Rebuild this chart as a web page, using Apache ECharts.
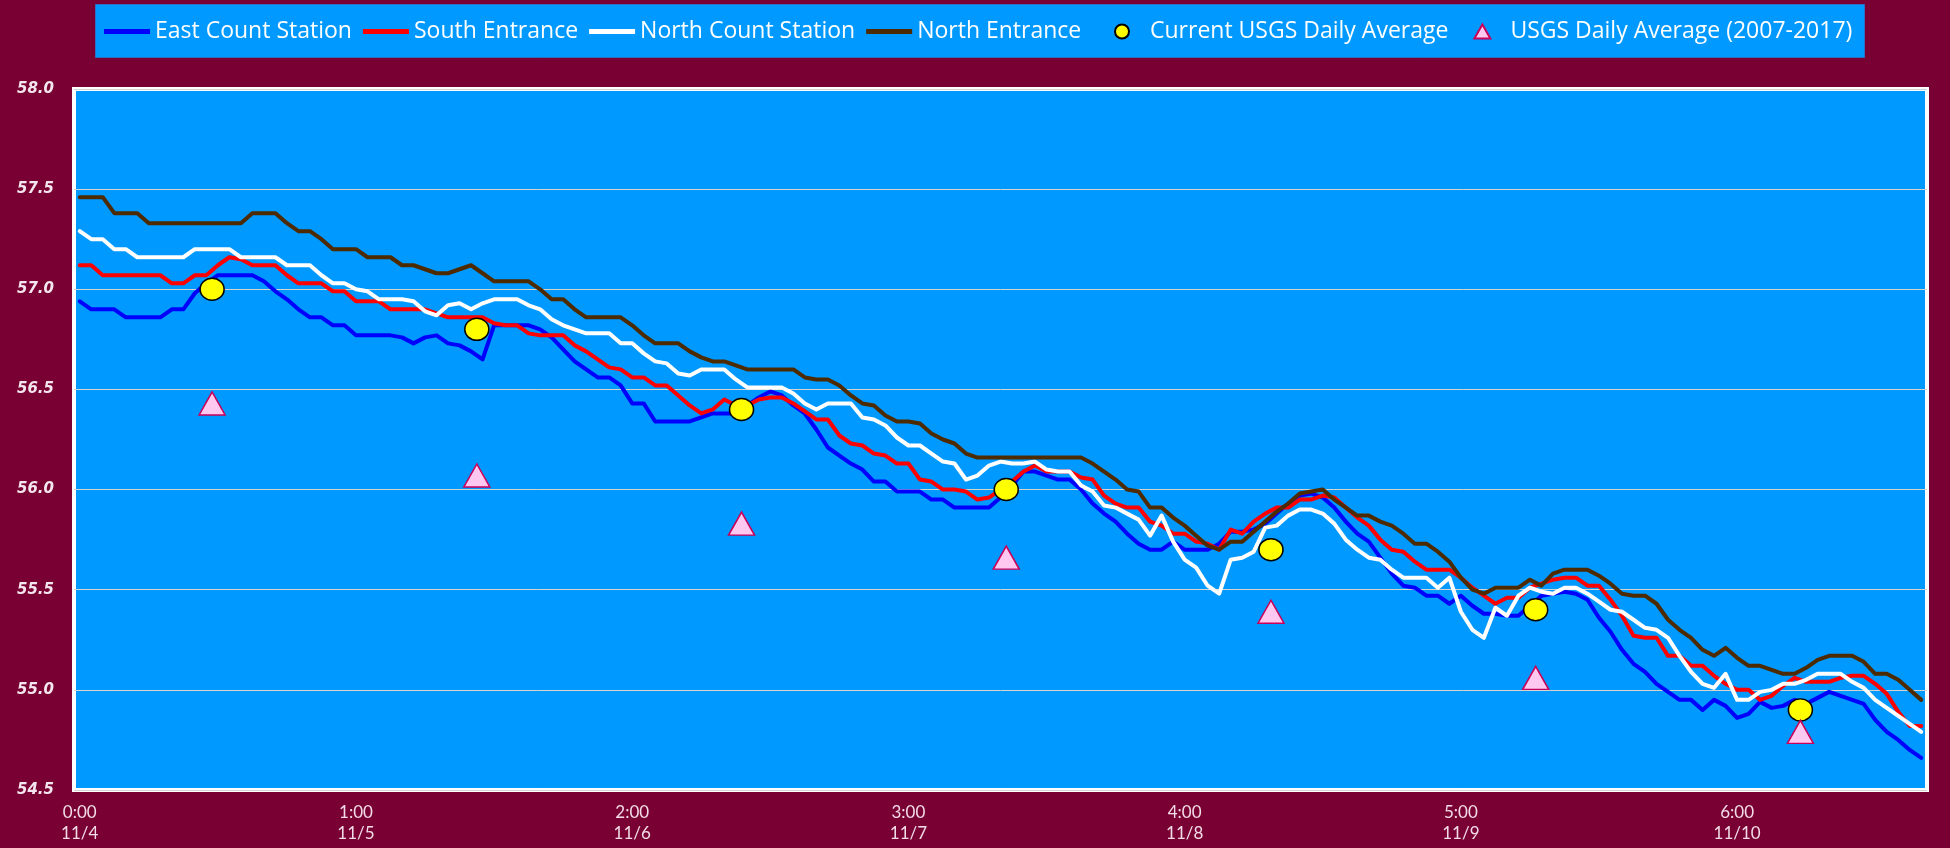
<!DOCTYPE html>
<html>
<head>
<meta charset="utf-8">
<title>Water temperature by station</title>
<script src="https://cdn.jsdelivr.net/npm/echarts/dist/echarts.min.js"></script>
<style>
  html, body { margin: 0; padding: 0; background: #780032; }
  #main { width: 1950px; height: 848px; }
</style>
</head>
<body>
<div id="main"></div>
<script>
// hourly readings, one row per day (24 values)
var eastCount = [
  56.94, 56.90, 56.90, 56.90, 56.86, 56.86, 56.86, 56.86, 56.90, 56.90, 56.98, 57.03, 57.07, 57.07, 57.07, 57.07, 57.04, 56.99, 56.95, 56.90, 56.86, 56.86, 56.82, 56.82,
  56.77, 56.77, 56.77, 56.77, 56.76, 56.73, 56.76, 56.77, 56.73, 56.72, 56.69, 56.65, 56.82, 56.82, 56.82, 56.82, 56.80, 56.76, 56.70, 56.64, 56.60, 56.56, 56.56, 56.52,
  56.43, 56.43, 56.34, 56.34, 56.34, 56.34, 56.36, 56.38, 56.38, 56.38, 56.42, 56.46, 56.49, 56.47, 56.42, 56.38, 56.30, 56.21, 56.17, 56.13, 56.10, 56.04, 56.04, 55.99,
  55.99, 55.99, 55.95, 55.95, 55.91, 55.91, 55.91, 55.91, 55.96, 56.02, 56.09, 56.09, 56.07, 56.05, 56.05, 56.00, 55.93, 55.88, 55.84, 55.78, 55.73, 55.70, 55.70, 55.74,
  55.70, 55.70, 55.70, 55.73, 55.79, 55.79, 55.80, 55.83, 55.88, 55.93, 55.97, 55.98, 55.96, 55.91, 55.84, 55.78, 55.74, 55.66, 55.58, 55.52, 55.51, 55.47, 55.47, 55.43,
  55.47, 55.42, 55.38, 55.38, 55.37, 55.37, 55.42, 55.47, 55.48, 55.49, 55.48, 55.45, 55.36, 55.29, 55.20, 55.13, 55.09, 55.03, 54.99, 54.95, 54.95, 54.90, 54.95, 54.92,
  54.86, 54.88, 54.94, 54.91, 54.92, 54.95, 54.93, 54.96, 54.99, 54.97, 54.95, 54.93, 54.85, 54.79, 54.75, 54.70, 54.66
];
var southEntrance = [
  57.12, 57.12, 57.07, 57.07, 57.07, 57.07, 57.07, 57.07, 57.03, 57.03, 57.07, 57.07, 57.12, 57.16, 57.15, 57.12, 57.12, 57.12, 57.07, 57.03, 57.03, 57.03, 56.99, 56.99,
  56.94, 56.94, 56.94, 56.90, 56.90, 56.90, 56.90, 56.88, 56.86, 56.86, 56.86, 56.86, 56.83, 56.82, 56.82, 56.78, 56.77, 56.77, 56.77, 56.72, 56.69, 56.65, 56.61, 56.60,
  56.56, 56.56, 56.52, 56.52, 56.47, 56.42, 56.38, 56.40, 56.45, 56.42, 56.42, 56.45, 56.46, 56.46, 56.43, 56.39, 56.35, 56.35, 56.27, 56.23, 56.22, 56.18, 56.17, 56.13,
  56.13, 56.05, 56.04, 56.00, 56.00, 55.99, 55.95, 55.96, 56.00, 56.04, 56.09, 56.12, 56.09, 56.09, 56.09, 56.06, 56.05, 55.97, 55.93, 55.91, 55.91, 55.84, 55.82, 55.78,
  55.78, 55.74, 55.73, 55.70, 55.80, 55.78, 55.84, 55.88, 55.91, 55.91, 55.95, 55.95, 55.97, 55.96, 55.91, 55.86, 55.82, 55.75, 55.70, 55.69, 55.64, 55.60, 55.60, 55.60,
  55.56, 55.51, 55.47, 55.43, 55.46, 55.46, 55.51, 55.53, 55.55, 55.56, 55.56, 55.52, 55.52, 55.45, 55.37, 55.27, 55.26, 55.26, 55.17, 55.17, 55.12, 55.12, 55.07, 55.03,
  55.00, 55.00, 54.95, 54.97, 55.02, 55.06, 55.04, 55.04, 55.04, 55.06, 55.07, 55.07, 55.03, 54.98, 54.89, 54.82, 54.82
];
var northCount = [
  57.29, 57.25, 57.25, 57.20, 57.20, 57.16, 57.16, 57.16, 57.16, 57.16, 57.20, 57.20, 57.20, 57.20, 57.16, 57.16, 57.16, 57.16, 57.12, 57.12, 57.12, 57.07, 57.03, 57.03,
  57.00, 56.99, 56.95, 56.95, 56.95, 56.94, 56.89, 56.87, 56.92, 56.93, 56.90, 56.93, 56.95, 56.95, 56.95, 56.92, 56.90, 56.85, 56.82, 56.80, 56.78, 56.78, 56.78, 56.73,
  56.73, 56.68, 56.64, 56.63, 56.58, 56.57, 56.60, 56.60, 56.60, 56.55, 56.51, 56.51, 56.51, 56.51, 56.48, 56.43, 56.40, 56.43, 56.43, 56.43, 56.36, 56.35, 56.32, 56.26,
  56.22, 56.22, 56.18, 56.14, 56.13, 56.05, 56.07, 56.12, 56.14, 56.13, 56.13, 56.14, 56.10, 56.09, 56.09, 56.02, 55.99, 55.92, 55.91, 55.88, 55.85, 55.77, 55.87, 55.74,
  55.65, 55.61, 55.52, 55.48, 55.65, 55.66, 55.69, 55.81, 55.82, 55.87, 55.90, 55.90, 55.88, 55.83, 55.75, 55.70, 55.66, 55.65, 55.60, 55.56, 55.56, 55.56, 55.51, 55.56,
  55.39, 55.30, 55.26, 55.41, 55.37, 55.47, 55.51, 55.49, 55.48, 55.51, 55.51, 55.48, 55.44, 55.40, 55.39, 55.35, 55.31, 55.30, 55.26, 55.17, 55.09, 55.03, 55.01, 55.08,
  54.95, 54.95, 54.99, 55.00, 55.03, 55.03, 55.05, 55.08, 55.08, 55.08, 55.04, 55.01, 54.95, 54.91, 54.87, 54.83, 54.79
];
var northEntrance = [
  57.46, 57.46, 57.46, 57.38, 57.38, 57.38, 57.33, 57.33, 57.33, 57.33, 57.33, 57.33, 57.33, 57.33, 57.33, 57.38, 57.38, 57.38, 57.33, 57.29, 57.29, 57.25, 57.20, 57.20,
  57.20, 57.16, 57.16, 57.16, 57.12, 57.12, 57.10, 57.08, 57.08, 57.10, 57.12, 57.08, 57.04, 57.04, 57.04, 57.04, 57.00, 56.95, 56.95, 56.90, 56.86, 56.86, 56.86, 56.86,
  56.82, 56.77, 56.73, 56.73, 56.73, 56.69, 56.66, 56.64, 56.64, 56.62, 56.60, 56.60, 56.60, 56.60, 56.60, 56.56, 56.55, 56.55, 56.52, 56.47, 56.43, 56.42, 56.37, 56.34,
  56.34, 56.33, 56.28, 56.25, 56.23, 56.18, 56.16, 56.16, 56.16, 56.16, 56.16, 56.16, 56.16, 56.16, 56.16, 56.16, 56.13, 56.09, 56.05, 56.00, 55.99, 55.91, 55.91, 55.86,
  55.82, 55.77, 55.72, 55.70, 55.74, 55.74, 55.79, 55.84, 55.89, 55.93, 55.98, 55.99, 56.00, 55.95, 55.91, 55.87, 55.87, 55.84, 55.82, 55.78, 55.73, 55.73, 55.69, 55.64,
  55.56, 55.50, 55.48, 55.51, 55.51, 55.51, 55.55, 55.52, 55.58, 55.60, 55.60, 55.60, 55.57, 55.53, 55.48, 55.47, 55.47, 55.43, 55.35, 55.30, 55.26, 55.20, 55.17, 55.21,
  55.16, 55.12, 55.12, 55.10, 55.08, 55.08, 55.11, 55.15, 55.17, 55.17, 55.17, 55.14, 55.08, 55.08, 55.05, 55.00, 54.95
];

// daily USGS points, placed by hour index
var usgsHour = [11.5, 34.5, 57.5, 80.5, 103.5, 126.5, 149.5];
var usgsCurrent = [57.0, 56.8, 56.4, 56.0, 55.7, 55.4, 54.9];
var usgsHistoric = [56.43, 56.07, 55.83, 55.66, 55.39, 55.06, 54.79];

// one label per day, every 24 hours
var dayLabels = ['0:00\n11/4', '1:00\n11/5', '2:00\n11/6', '3:00\n11/7', '4:00\n11/8', '5:00\n11/9', '6:00\n11/10'];

var chart = echarts.init(document.getElementById('main'));

var hours = [];
for (var i = 0; i < eastCount.length; i++) {
  hours.push(i);
}

function pairs(xs, ys) {
  var out = [];
  for (var i = 0; i < xs.length; i++) {
    out.push([xs[i], ys[i]]);
  }
  return out;
}

function lineSeries(name, data, color) {
  return {
    name: name,
    type: 'line',
    data: data,
    symbol: 'none',
    showSymbol: false,
    lineStyle: { color: color, width: 4, cap: 'round', join: 'round' },
    itemStyle: { color: color }
  };
}

// flat bar used as legend mark for the lines
var barIcon = 'path://M0,0H46V5H0Z';
var legendText = { color: '#ffffff', fontFamily: 'Open Sans', fontSize: 23 };

var option = {
  animation: false,
  backgroundColor: '#780032',
  graphic: [{
    type: 'rect',
    left: 95,
    top: 4,
    z: -1,
    shape: { width: 1769, height: 53 },
    style: { fill: '#0099ff', stroke: '#2d6fc4', lineWidth: 1 }
  }],
  legend: [{
    top: 20,
    left: 104,
    padding: 0,
    itemWidth: 46,
    itemHeight: 14,
    itemGap: 11,
    textStyle: legendText,
    data: [
      { name: 'East Count Station', icon: barIcon },
      { name: 'South Entrance', icon: barIcon },
      { name: 'North Count Station', icon: barIcon },
      { name: 'North Entrance', icon: barIcon }
    ]
  }, {
    top: 20,
    left: 1114,
    padding: 0,
    itemWidth: 46,
    itemHeight: 14,
    itemGap: 25,
    textStyle: legendText,
    data: [
      { name: 'Current USGS Daily Average', icon: 'circle' },
      { name: 'USGS Daily Average (2007-2017)', icon: 'path://M8,0L16,14L0,14Z' }
    ]
  }],
  grid: {
    left: 74,
    right: 23,
    top: 89,
    bottom: 58,
    show: true,
    backgroundColor: '#0099ff',
    borderColor: '#ffffff',
    borderWidth: 4
  },
  xAxis: [{
    type: 'category',
    data: hours,
    boundaryGap: true,
    axisLine: { show: false },
    axisTick: { show: false },
    splitLine: { show: false },
    axisLabel: {
      interval: 0,
      margin: 12,
      color: '#f2dce7',
      fontFamily: 'Lato',
      fontSize: 17,
      lineHeight: 21,
      formatter: function(v, idx) {
        return idx % 24 === 0 ? dayLabels[idx / 24] : '';
      }
    }
  }, {
    type: 'value',
    show: false,
    min: -0.5,
    max: eastCount.length - 0.5,
    splitLine: { show: false }
  }],
  yAxis: {
    type: 'value',
    min: 54.5,
    max: 58,
    interval: 0.5,
    axisLine: { show: false },
    axisTick: { show: false },
    splitLine: { lineStyle: { color: '#d4d4d4', width: 1 } },
    axisLabel: {
      margin: 20,
      color: '#f4e6ee',
      fontFamily: 'DejaVu Sans',
      fontStyle: 'italic',
      fontWeight: 'bold',
      fontSize: 15,
      formatter: function(v) {
        return v.toFixed(1);
      }
    }
  },
  series: [
    lineSeries('East Count Station', eastCount, '#0000ff'),
    lineSeries('South Entrance', southEntrance, '#ff0000'),
    lineSeries('North Count Station', northCount, '#ffffff'),
    lineSeries('North Entrance', northEntrance, '#4d2a00'),
    {
      name: 'Current USGS Daily Average',
      type: 'scatter',
      xAxisIndex: 1,
      data: pairs(usgsHour, usgsCurrent),
      symbol: 'circle',
      symbolSize: [24, 22],
      itemStyle: { color: '#ffff00', borderColor: '#000000', borderWidth: 1.5, opacity: 1 },
      z: 5
    },
    {
      name: 'USGS Daily Average (2007-2017)',
      type: 'scatter',
      xAxisIndex: 1,
      data: pairs(usgsHour, usgsHistoric),
      symbol: 'triangle',
      symbolSize: [26, 23],
      itemStyle: { color: '#ffc8f0', borderColor: '#c8005a', borderWidth: 1.5, opacity: 1 },
      z: 5
    }
  ]
};
chart.setOption(option);
</script>
</body>
</html>
